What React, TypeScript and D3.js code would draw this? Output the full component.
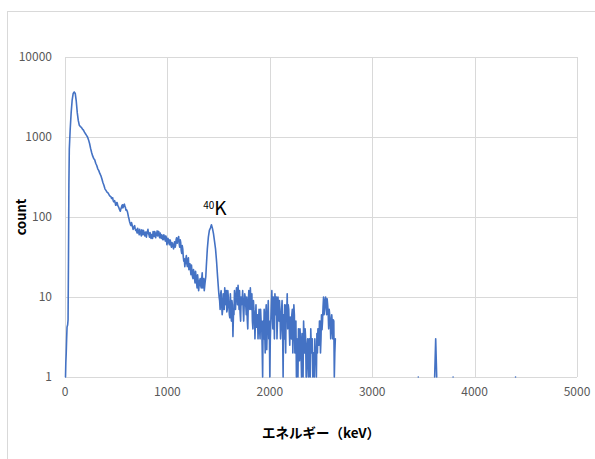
import * as d3 from 'd3';

// [energy keV, count]
type Pt = [number, number];

const xTicks = [0, 1000, 2000, 3000, 4000, 5000];
const yTicks = [1, 10, 100, 1000, 10000];

const riseAndPeak: Pt[] = [
  [5, 1], [8, 1.5], [12, 2], [16, 3], [20, 4.2], [26, 4.5], [30, 5.2], [34, 30], [38, 250],
  [42, 700], [50, 1200], [60, 2000], [70, 2900], [80, 3500], [90, 3650], [100, 3500],
  [110, 2800], [120, 2000], [130, 1600], [140, 1400], [150, 1350], [160, 1320], [170, 1260],
  [180, 1220], [190, 1150], [200, 1100], [210, 1050], [220, 1000], [230, 920], [240, 830],
  [250, 720], [260, 640], [270, 580], [280, 540], [290, 520], [300, 470], [310, 440],
  [320, 400], [330, 380], [340, 350], [350, 330], [360, 300], [370, 270], [380, 250],
  [390, 225], [400, 215], [410, 205], [420, 200], [430, 190], [440, 182], [450, 178],
];

const continuum: Pt[] = [
  [460, 170], [470, 162], [480, 158], [490, 150], [500, 142], [510, 150], [520, 136],
  [530, 126], [540, 118], [550, 130], [560, 142], [570, 134], [580, 145], [590, 132],
  [600, 124], [610, 116], [620, 100], [630, 88], [640, 80], [650, 85], [660, 75], [670, 72],
  [680, 78], [690, 68], [700, 66], [710, 72], [720, 64], [730, 70], [740, 62], [750, 69],
  [760, 60], [770, 66], [780, 58], [790, 65], [800, 62], [810, 70], [820, 60], [830, 64],
  [840, 54], [850, 58], [860, 66], [870, 57], [880, 64], [890, 60], [900, 67], [910, 62],
  [920, 58], [930, 63], [940, 54], [950, 58], [960, 52], [970, 57], [980, 50], [990, 55],
  [1000, 48], [1010, 52], [1020, 45], [1030, 50], [1040, 42], [1050, 46], [1060, 40],
  [1070, 49], [1080, 44], [1090, 55], [1100, 50], [1110, 57], [1120, 42], [1130, 48],
  [1140, 35], [1150, 40], [1160, 28], [1170, 24], [1180, 30], [1190, 26], [1200, 29],
  [1210, 22], [1220, 26], [1230, 19], [1240, 21], [1250, 17], [1260, 20], [1270, 15],
  [1280, 18], [1290, 13], [1300, 16], [1310, 14], [1320, 17], [1330, 13], [1340, 20],
  [1350, 14], [1360, 12], [1370, 16],
];

// in-between channels of the continuum (the noise band)
const continuumOdd: Pt[] = [
  [455, 170], [465, 174], [475, 155], [485, 160], [495, 140], [505, 152], [515, 140],
  [525, 132], [535, 122], [545, 126], [555, 138], [565, 130], [575, 142], [585, 136],
  [595, 122], [605, 120], [615, 108], [625, 95], [635, 84], [645, 78], [655, 80], [665, 70],
  [675, 76], [685, 72], [695, 70], [705, 63], [715, 68], [725, 60], [735, 66], [745, 58],
  [755, 64], [765, 68], [775, 60], [785, 64], [795, 56], [805, 66], [815, 62], [825, 56],
  [835, 62], [845, 60], [855, 54], [865, 62], [875, 66], [885, 55], [895, 62], [905, 58],
  [915, 66], [925, 55], [935, 58], [945, 60], [955, 52], [965, 60], [975, 53], [985, 58],
  [995, 45], [1005, 54], [1015, 47], [1025, 52], [1035, 44], [1045, 48], [1055, 43],
  [1065, 46], [1075, 42], [1085, 52], [1095, 47], [1105, 54], [1115, 46], [1125, 52],
  [1135, 38], [1145, 44], [1155, 32], [1165, 30], [1175, 27], [1185, 33], [1195, 24],
  [1205, 31], [1215, 25], [1225, 22], [1235, 25], [1245, 18], [1255, 22], [1265, 17],
  [1275, 21], [1285, 15], [1295, 19], [1305, 12], [1315, 16], [1325, 14], [1335, 17],
  [1345, 13], [1355, 17], [1365, 14], [1375, 18],
];

const k40Peak: Pt[] = [
  [1380, 24], [1390, 40], [1400, 56], [1410, 68], [1420, 73], [1430, 80], [1440, 72],
  [1450, 62], [1460, 50], [1470, 40], [1480, 28], [1490, 18], [1500, 12],
];

const highEnergyTail: Pt[] = [
  [1510, 9], [1520, 11], [1530, 8], [1540, 7], [1550, 10], [1560, 13], [1570, 8],
  [1580, 6.5], [1590, 12], [1600, 8], [1610, 5.5], [1620, 7], [1630, 9], [1640, 3.2],
  [1650, 6], [1660, 8.5], [1670, 10], [1680, 11], [1690, 14], [1700, 7], [1710, 6.3],
  [1720, 10], [1730, 9], [1740, 7], [1750, 8], [1760, 10], [1770, 6], [1780, 5.2],
  [1790, 8.5], [1800, 10], [1810, 13], [1820, 7], [1830, 5], [1840, 9], [1850, 6],
  [1860, 5], [1870, 4.2], [1880, 6], [1890, 5], [1900, 4], [1910, 7], [1920, 5], [1930, 1],
  [1940, 3], [1950, 4], [1960, 6], [1970, 2.2], [1980, 6], [1990, 3], [2000, 1], [2010, 5],
  [2020, 12], [2030, 4], [2040, 7], [2050, 11], [2060, 6], [2070, 3], [2080, 10], [2090, 5],
  [2100, 6], [2110, 4], [2120, 9], [2130, 1], [2140, 3], [2150, 5], [2160, 8], [2170, 11],
  [2180, 8], [2190, 4], [2200, 5.6], [2210, 3], [2220, 7], [2230, 4], [2240, 6], [2250, 3],
  [2260, 1], [2270, 2.5], [2280, 4], [2290, 1.6], [2300, 3], [2310, 1], [2320, 2.2],
  [2330, 5], [2340, 2], [2350, 3], [2360, 1], [2370, 3], [2380, 1], [2390, 2], [2400, 4],
  [2410, 2], [2420, 1], [2430, 1.5], [2440, 3], [2450, 2], [2460, 3.5], [2470, 4],
  [2480, 2.5], [2490, 5], [2500, 3], [2510, 3.9], [2520, 7.5], [2530, 6], [2540, 9],
  [2550, 8], [2560, 9.5], [2570, 6.3], [2580, 7], [2590, 5.2], [2600, 4], [2610, 4.8],
  [2620, 5.2], [2630, 1], [2640, 3], [2650, 0],
];

const highEnergyTailOdd: Pt[] = [
  [1505, 10], [1515, 7], [1525, 12], [1535, 6], [1545, 11], [1555, 7], [1565, 9],
  [1575, 12], [1585, 7], [1595, 10], [1605, 6], [1615, 11], [1625, 5], [1635, 8],
  [1645, 6], [1655, 12], [1665, 7], [1675, 13], [1685, 8], [1695, 10], [1705, 12],
  [1715, 5], [1725, 8], [1735, 12], [1745, 5], [1755, 11], [1765, 8], [1775, 10],
  [1785, 4], [1795, 12], [1805, 7], [1815, 9], [1825, 11], [1835, 4], [1845, 7], [1855, 3],
  [1865, 8], [1875, 6], [1885, 3], [1895, 7], [1905, 3], [1915, 5], [1925, 2.5], [1935, 5],
  [1945, 7], [1955, 2], [1965, 8], [1975, 4], [1985, 9], [1995, 5], [2005, 3], [2015, 8],
  [2025, 6], [2035, 10], [2045, 3], [2055, 8], [2065, 10], [2075, 5], [2085, 7], [2095, 9],
  [2105, 3], [2115, 7], [2125, 4], [2135, 6], [2145, 8], [2155, 2], [2165, 6], [2175, 4],
  [2185, 7], [2195, 2.5], [2205, 4], [2215, 6], [2225, 2], [2235, 8], [2245, 2], [2255, 5],
  [2265, 3], [2275, 1], [2285, 3], [2295, 4], [2305, 2], [2315, 3.5], [2325, 1], [2335, 3],
  [2345, 4], [2355, 1], [2365, 2.5], [2375, 1.5], [2385, 3], [2395, 1], [2405, 2.5],
  [2415, 3], [2425, 2], [2435, 1], [2445, 2], [2455, 1], [2465, 2], [2475, 3], [2485, 5],
  [2495, 2], [2505, 6], [2515, 5], [2525, 10], [2535, 7], [2545, 10], [2555, 6], [2565, 8],
  [2575, 4], [2585, 6], [2595, 3], [2605, 6], [2615, 3], [2625, 5], [2635, 2],
];

// scattered single counts above the 208Tl edge (0 = nothing drawn)
const sparseCounts: Pt[] = [
  [3440, 0], [3450, 1], [3460, 0], [3600, 0], [3610, 1], [3620, 3], [3630, 1], [3640, 0],
  [3780, 0], [3790, 1], [3800, 0], [4390, 0], [4400, 1], [4410, 0],
];

const spectrum: Pt[] = [
  ...riseAndPeak,
  ...continuum,
  ...continuumOdd,
  ...k40Peak,
  ...highEnergyTail,
  ...highEnergyTailOdd,
  ...sparseCounts,
].sort((a, b) => a[0] - b[0]);

const W = 595;
const H = 459;
const margin = { top: 57, right: 18, bottom: 82, left: 65 };
const font = '"Noto Sans CJK JP", "Noto Sans", sans-serif';

export default function App() {
  const x = d3.scaleLinear().domain([0, 5000]).range([margin.left, W - margin.right]);
  const y = d3.scaleLog().domain([1, 10000]).range([H - margin.bottom, margin.top]);

  const line = d3
    .line<Pt>()
    .defined((d) => d[1] > 0)
    .x((d) => x(d[0]))
    .y((d) => y(d[1]));

  const crisp = (v: number) => Math.round(v) + 0.5;

  return (
    <svg
      width={W}
      height={H}
      style={{ position: 'absolute', left: 0, top: 0, background: '#fff' }}
      fontFamily={font}
    >
      <rect x={7.5} y={11.5} width={700} height={600} fill="none" stroke="#d9d9d9" />

      {yTicks.map((t) => (
        <line key={'gy' + t} x1={x(0)} x2={x(5000)} y1={crisp(y(t))} y2={crisp(y(t))} stroke="#d9d9d9" />
      ))}
      {xTicks.map((t) => (
        <line key={'gx' + t} x1={crisp(x(t))} x2={crisp(x(t))} y1={y(10000)} y2={y(1)} stroke="#d9d9d9" />
      ))}

      {yTicks.map((t) => (
        <text key={'ty' + t} x={52} y={y(t) + 4} textAnchor="end" fontSize={12} fill="#595959">
          {t}
        </text>
      ))}
      {xTicks.map((t) => (
        <text key={'tx' + t} x={x(t)} y={y(1) + 19} textAnchor="middle" fontSize={12} fill="#595959">
          {t}
        </text>
      ))}

      <path
        d={line(spectrum) || ''}
        fill="none"
        stroke="#4472c4"
        strokeWidth={1.6}
        strokeLinejoin="round"
        strokeLinecap="round"
      />

      <text x={x(1350)} y={y(100) - 2} fill="#000">
        <tspan fontSize={10} dy={-6}>40</tspan>
        <tspan fontSize={19} dy={6}>K</tspan>
      </text>

      <text
        transform={`translate(26,${y(100)}) rotate(-90)`}
        textAnchor="middle"
        fontSize={13}
        fontWeight="bold"
        fill="#000"
      >
        count
      </text>
      <text x={(x(0) + x(5000)) / 2} y={438} textAnchor="middle" fontSize={13.5} fontWeight="bold" fill="#000">
        エネルギー（keV）
      </text>
    </svg>
  );
}
